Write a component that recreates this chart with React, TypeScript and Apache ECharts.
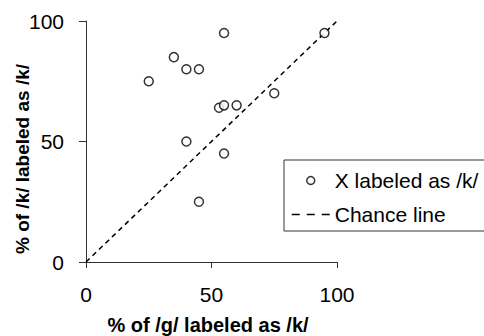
import React, { useEffect, useRef } from "react";
import * as echarts from "echarts";

const xValues = [55, 95, 35, 40, 45, 25, 75, 53, 55, 60, 40, 55, 45];
const yValues = [95, 95, 85, 80, 80, 75, 70, 64, 65, 65, 50, 45, 25];
const chanceLine = [
  [0, 0],
  [100, 100],
];
const xTicks = [0, 50, 100];
const yTicks = [0, 50, 100];
const seriesNames = ["X labeled as /k/", "Chance line"];
const xAxisName = "% of /g/ labeled as /k/";
const yAxisName = "% of /k/ labeled as /k/";

const FONT = "'Liberation Sans', Arial, sans-serif";

export default function App() {
  const ref = useRef<HTMLDivElement>(null);
  useEffect(() => {
    if (!ref.current) return;
    const chart = echarts.init(ref.current, undefined, { renderer: "svg" });
    const points = xValues.map((x, i) => [x, yValues[i]]);
    chart.setOption({
      animation: false,
      backgroundColor: "#ffffff",
      textStyle: { fontFamily: FONT },
      grid: { left: 86, right: 147, top: 21, bottom: 74, containLabel: false },
      xAxis: {
        type: "value",
        min: xTicks[0],
        max: xTicks[xTicks.length - 1],
        interval: 50,
        splitLine: { show: false },
        axisLine: { show: true, onZero: false, lineStyle: { color: "#333", width: 1 } },
        axisTick: { show: true, length: 6, lineStyle: { color: "#333" } },
        axisLabel: { fontSize: 21, color: "#000", margin: 22, fontFamily: FONT },
      },
      yAxis: {
        type: "value",
        min: yTicks[0],
        max: yTicks[yTicks.length - 1],
        interval: 50,
        splitLine: { show: false },
        axisLine: { show: true, onZero: false, lineStyle: { color: "#333", width: 1 } },
        axisTick: { show: true, length: 7, lineStyle: { color: "#333" } },
        axisLabel: { fontSize: 21, color: "#000", margin: 22, fontFamily: FONT },
      },
      legend: {
        left: 284,
        top: 160,
        orient: "vertical",
        itemWidth: 38,
        itemHeight: 8,
        itemGap: 13,
        padding: [10, 60, 6, 7],
        borderColor: "#333",
        borderWidth: 1,
        backgroundColor: "#fff",
        textStyle: { fontSize: 21, color: "#000", fontFamily: FONT, lineHeight: 20 },
        data: [
          {
            name: seriesNames[0],
            icon: "circle",
            itemStyle: { color: "#fff", borderColor: "#000", borderWidth: 1.5 },
          },
          {
            name: seriesNames[1],
            itemStyle: { color: "rgba(0,0,0,0)", borderColor: "rgba(0,0,0,0)", borderWidth: 0 },
            lineStyle: { color: "#000", width: 1.5, type: [8, 7] },
          },
        ],
      },
      graphic: [
        {
          type: "text",
          x: 208,
          y: 325,
          style: {
            text: xAxisName,
            font: `bold 20px ${FONT}`,
            fill: "#000",
            align: "center",
            verticalAlign: "middle",
          },
        },
        {
          type: "text",
          x: 22,
          y: 159,
          rotation: Math.PI / 2,
          style: {
            text: yAxisName,
            font: `bold 19px ${FONT}`,
            fill: "#000",
            align: "center",
            verticalAlign: "middle",
          },
        },
      ],
      series: [
        {
          name: seriesNames[0],
          type: "scatter",
          data: points,
          symbol: "circle",
          symbolSize: 9,
          itemStyle: { color: "#fff", borderColor: "#000", borderWidth: 1.5 },
          z: 3,
        },
        {
          name: seriesNames[1],
          type: "line",
          data: chanceLine,
          symbol: "none",
          showSymbol: false,
          lineStyle: { color: "#000", width: 1.5, type: [5, 4] },
          itemStyle: { color: "#000" },
          z: 2,
        },
      ],
    });
    return () => chart.dispose();
  }, []);
  return <div ref={ref} style={{ width: 484, height: 336, position: "absolute", left: 0, top: 0 }} />;
}
